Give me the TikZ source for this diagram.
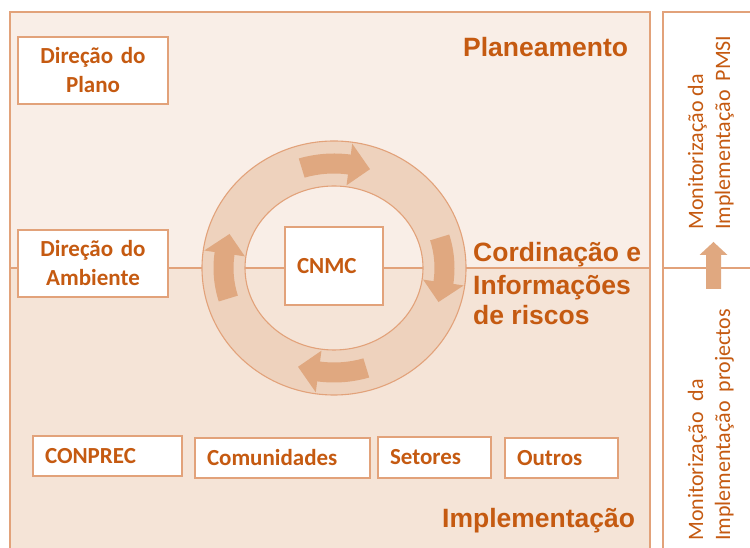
\documentclass[tikz,border=0pt]{standalone}
\usepackage{fontspec}
\setmainfont{Carlito}
\newfontfamily\arialfont{Liberation Sans}
\definecolor{txtC}{RGB}{197,90,17}
\definecolor{lineC}{RGB}{226,162,122}
\definecolor{bgTop}{RGB}{249,238,231}
\definecolor{bgBot}{RGB}{245,228,215}
\definecolor{ringC}{RGB}{238,210,189}
\definecolor{arrC}{RGB}{224,168,128}
\begin{document}
\begin{tikzpicture}[x=1pt,y=1pt,
  frame/.style={draw=lineC, line width=1.3pt},
  divider/.style={draw=lineC, line width=1.1pt},
  twobox/.style={draw=lineC, line width=1.4pt, fill=white, text=txtC,
    font=\bfseries\fontsize{23}{29}\selectfont, align=center,
    inner xsep=0pt, inner ysep=0pt, text width=150pt, minimum height=67pt},
  onebox/.style={draw=lineC, line width=1.4pt, fill=white, text=txtC,
    font=\bfseries\fontsize{23}{28}\selectfont, align=left,
    inner xsep=12pt, inner ysep=0pt, text height=15pt, text depth=0pt},
  title/.style={text=txtC, font=\arialfont\bfseries\fontsize{26.5}{32}\selectfont,
    inner sep=0pt, anchor=base west},
  side/.style={text=txtC, font=\fontsize{22}{27}\selectfont,
    inner sep=0pt, anchor=base west, rotate=90},
  ringarrow/.style={fill=arrC}
]
\useasboundingbox (0,0) rectangle (750,548);
\clip (0,0) rectangle (750,548);
\fill[white] (0,0) rectangle (750,548);
% main frame
\fill[bgTop] (10,280) rectangle (650,536);
\fill[bgBot] (10,-5) rectangle (650,280);
\draw[divider] (10,280) -- (650,280);
\draw[frame] (10,-5) -- (10,536) -- (650,536) -- (650,-5);
% right frame
\draw[divider] (663,280) -- (760,280);
\draw[frame] (663,-5) -- (663,536) -- (760,536);
% ring
\begin{scope}[shift={(334,280)}]
  \path[fill=ringC, draw=lineC, line width=1.1pt, even odd rule]
    (0,0) ellipse[x radius=132, y radius=127]
    (0,0) ellipse[x radius=89, y radius=82];
  \foreach \c in {90,0,-90,180}{
    \fill[ringarrow]
      ({120.5*cos(\c+17)},{114.5*sin(\c+17)})
      arc[start angle=\c+17, end angle=\c-8, x radius=120.5, y radius=114.5]
      -- ({131*cos(\c-8)},{125.5*sin(\c-8)})
      -- ({110.5*cos(\c-19)},{104.5*sin(\c-19)})
      -- ({90*cos(\c-8)},{83.5*sin(\c-8)})
      -- ({100.5*cos(\c-8)},{94.5*sin(\c-8)})
      arc[start angle=\c-8, end angle=\c+17, x radius=100.5, y radius=94.5]
      -- cycle;
  }
\end{scope}
% boxes
\node[twobox] (plano) at (93,477.5) {Direção do\\Plano};
\node[twobox] (ambiente) at (93,284.5) {Direção do\\Ambiente};
\node[onebox, text width=74pt, minimum height=78pt] (cnmc) at (334,282) {CNMC};
\node[onebox, text width=125pt, minimum height=40pt] (conprec) at (107.5,92) {CONPREC};
\node[onebox, text width=151pt, minimum height=40pt] (comun) at (282.5,90) {Comunidades};
\node[onebox, text width=89pt, minimum height=41pt] (setores) at (434.5,90.5) {Setores};
\node[onebox, text width=89pt, minimum height=40pt] (outros) at (561.5,90) {Outros};
% titles
\node[title] (plan) at (463,491) {Planeamento};
\node[title] (cord1) at (473,286) {Cordinação e};
\node[title] (cord2) at (473,253) {Informações};
\node[title] (cord3) at (473,223) {de riscos};
\node[title] (impl) at (442,20) {Implementação};
% right column
\node[side] (mon1) at (703,318) {Monitorização da};
\node[side] (mon2) at (730,318) {Implementação\hspace{9pt}PMSI};
\node[side] (mon3) at (703,7) {Monitorização\hspace{11pt}da};
\node[side] (mon4) at (730,7) {Implementação\hspace{9pt}projectos};
\fill[arrC] (706,259) -- (706,293) -- (699.5,293) -- (713.5,306) -- (727.5,293)
  -- (721,293) -- (721,259) -- cycle;
\end{tikzpicture}
\end{document}
